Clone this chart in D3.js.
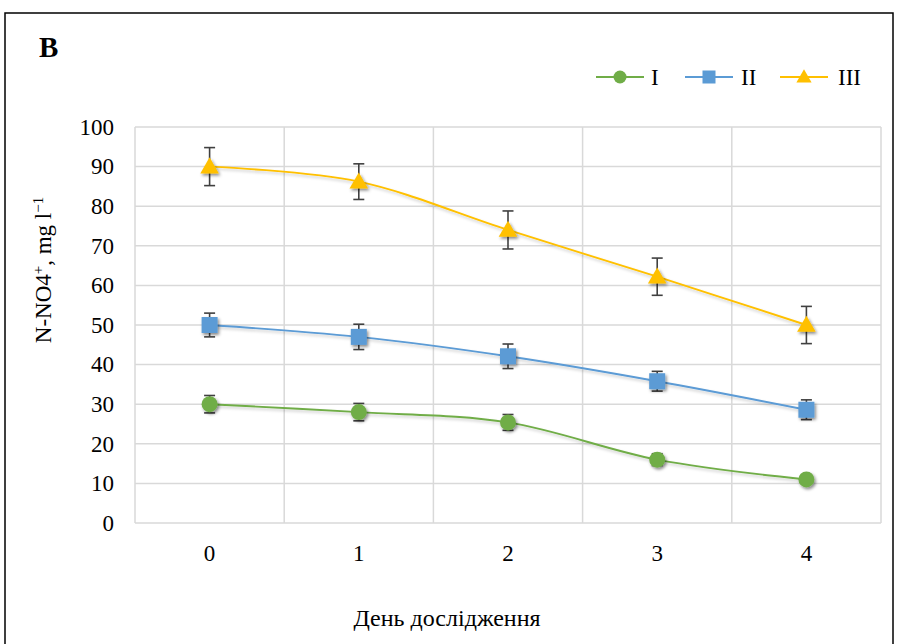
<!DOCTYPE html>
<html><head><meta charset="utf-8">
<script src="https://cdn.jsdelivr.net/npm/d3@7"></script>
<style>body{margin:0;background:#fff}svg{display:block}</style>
</head><body>
<svg id="c" width="899" height="644"></svg>
<script>
const days = ["0","1","2","3","4"];
const yTicks = [0,10,20,30,40,50,60,70,80,90,100];
const seriesNames = ["I","II","III"];
const valsI = [30, 28, 25.4, 16, 11];
const errI = [2.2, 2.2, 2.0, 1.5, 1.2];
const valsII = [50, 47, 42.1, 35.8, 28.6];
const errII = [3.0, 3.2, 3.1, 2.5, 2.5];
const valsIII = [90, 86.2, 74, 62.2, 50];
const errIII = [4.8, 4.5, 4.8, 4.7, 4.7];
const colors = ["#70AD47", "#5B9BD5", "#FFC000"];
const shapes = ["circle", "square", "triangle"];

const svg = d3.select("#c");
const font = "'Liberation Serif','Times New Roman',serif";
const defs = svg.append("defs");
const f = defs.append("filter").attr("id","sh").attr("x","-50%").attr("y","-50%").attr("width","200%").attr("height","200%");
f.append("feDropShadow").attr("dx",1.5).attr("dy",2).attr("stdDeviation",1.6).attr("flood-color","#000").attr("flood-opacity",0.45);
const f2 = defs.append("filter").attr("id","sh2").attr("x","-10%").attr("y","-10%").attr("width","120%").attr("height","120%");
f2.append("feDropShadow").attr("dx",1).attr("dy",2).attr("stdDeviation",1.5).attr("flood-color","#000").attr("flood-opacity",0.2);

svg.append("rect").attr("x",5).attr("y",13).attr("width",888).attr("height",660)
  .attr("fill","#fff").attr("stroke","#000").attr("stroke-width",1.5);

const L=135, R=881, T=127, B=523;
const x = d3.scaleBand().domain(days).range([L,R]);
const y = d3.scaleLinear().domain([0,100]).range([B,T]);

// gridlines
svg.append("g").selectAll("line").data(yTicks).join("line")
  .attr("x1",L).attr("x2",R).attr("y1",d=>y(d)).attr("y2",d=>y(d))
  .attr("stroke","#d9d9d9").attr("stroke-width",1.5);
const vx = days.map(d=>x(d)).concat([R]);
svg.append("g").selectAll("line").data(vx).join("line")
  .attr("x1",d=>d).attr("x2",d=>d).attr("y1",T).attr("y2",B)
  .attr("stroke","#d9d9d9").attr("stroke-width",1.5);

// axes labels
const ya = svg.append("g").attr("transform",`translate(${L},0)`)
  .call(d3.axisLeft(y).tickValues(yTicks).tickSize(0).tickPadding(21));
ya.select(".domain").remove();
ya.selectAll("text").attr("font-family",font).attr("font-size",23).attr("fill","#000");
const xa = svg.append("g").attr("transform",`translate(0,${B})`)
  .call(d3.axisBottom(x).tickSize(0).tickPadding(22));
xa.select(".domain").remove();
xa.selectAll("text").attr("font-family",font).attr("font-size",23).attr("fill","#000");

// titles
svg.append("text").attr("x",39).attr("y",57).attr("font-family",font).attr("font-size",29)
  .attr("font-weight","bold").text("B");
svg.append("text").attr("x",447).attr("y",626).attr("text-anchor","middle")
  .attr("font-family",font).attr("font-size",24).text("День дослідження");
const yl = svg.append("text").attr("transform","translate(51,270) rotate(-90)")
  .attr("text-anchor","middle").attr("font-family",font).attr("font-size",23);
yl.append("tspan").text("N-NO4");
yl.append("tspan").attr("baseline-shift","super").attr("font-size",15).text("+");
yl.append("tspan").text(", mg l");
yl.append("tspan").attr("baseline-shift","super").attr("font-size",15).text("−1");

function marker(g, shape, color, cx, cy){
  if(shape==="circle") g.append("circle").attr("cx",cx).attr("cy",cy).attr("r",8).attr("fill",color).attr("filter","url(#sh)");
  else if(shape==="square") g.append("rect").attr("x",cx-8).attr("y",cy-8).attr("width",16).attr("height",16).attr("fill",color).attr("filter","url(#sh)");
  else g.append("path").attr("d",d3.symbol().type(d3.symbolTriangle).size(150)()).attr("transform",`translate(${cx},${cy+1.5})`).attr("fill",color).attr("filter","url(#sh)");
}

const allVals=[valsI,valsII,valsIII], allErr=[errI,errII,errIII];
const line = d3.line().x((d,i)=>x(days[i])+x.bandwidth()/2).y(d=>y(d)).curve(d3.curveCardinal.tension(0));
allVals.forEach((vals,s)=>{
  const g = svg.append("g");
  g.append("path").attr("d",line(vals)).attr("fill","none").attr("stroke",colors[s]).attr("stroke-width",1.9).attr("filter","url(#sh2)");
  vals.forEach((v,i)=>{
    const cx = x(days[i])+x.bandwidth()/2;
    const e = allErr[s][i];
    const eb = g.append("g").attr("stroke","#404040").attr("stroke-width",1.6);
    eb.append("line").attr("x1",cx).attr("x2",cx).attr("y1",y(v+e)).attr("y2",y(v-e));
    eb.append("line").attr("x1",cx-5.5).attr("x2",cx+5.5).attr("y1",y(v+e)).attr("y2",y(v+e));
    eb.append("line").attr("x1",cx-5.5).attr("x2",cx+5.5).attr("y1",y(v-e)).attr("y2",y(v-e));
  });
  vals.forEach((v,i)=>{
    marker(g, shapes[s], colors[s], x(days[i])+x.bandwidth()/2, y(v));
  });
});

// legend
const legX=[596,685,780], legTX=[651,741,838];
seriesNames.forEach((n,s)=>{
  const g = svg.append("g");
  g.append("line").attr("x1",legX[s]).attr("x2",legX[s]+48).attr("y1",77).attr("y2",77).attr("stroke",colors[s]).attr("stroke-width",1.9);
  const mx = legX[s]+24;
  if(shapes[s]==="circle") g.append("circle").attr("cx",mx).attr("cy",77).attr("r",6.5).attr("fill",colors[s]);
  else if(shapes[s]==="square") g.append("rect").attr("x",mx-6.5).attr("y",70.5).attr("width",13).attr("height",13).attr("fill",colors[s]);
  else g.append("path").attr("d",d3.symbol().type(d3.symbolTriangle).size(100)()).attr("transform",`translate(${mx},78)`).attr("fill",colors[s]);
  g.append("text").attr("x",legTX[s]).attr("y",85).attr("font-family",font).attr("font-size",23).text(n);
});
</script>
</body></html>
